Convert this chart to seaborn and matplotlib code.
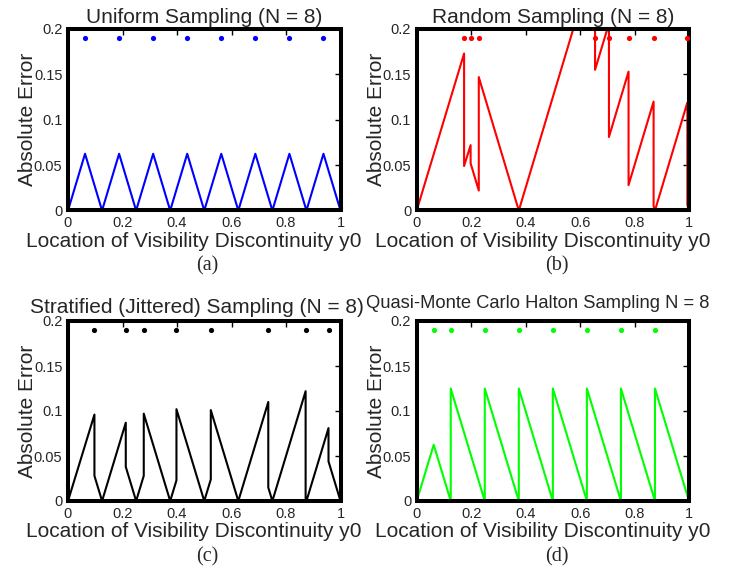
"""
Absolute error of a 1D visibility estimate against the location of the
discontinuity y0, for four ways of placing N = 8 samples.
"""

import matplotlib
matplotlib.use("Agg")
import matplotlib.pyplot as plt
import seaborn as sns

# height at which the sample positions are marked in every panel
DOT_LEVEL = 0.19

# (a) uniform sampling
UNIFORM_SAMPLES = [0.0625, 0.1875, 0.3125, 0.4375, 0.5625, 0.6875, 0.8125, 0.9375]
UNIFORM_X = [0, 0.0625, 0.125, 0.1875, 0.25, 0.3125, 0.375, 0.4375, 0.5,
             0.5625, 0.625, 0.6875, 0.75, 0.8125, 0.875, 0.9375, 1.0]
UNIFORM_ERR = [0, 0.0625, 0, 0.0625, 0, 0.0625, 0, 0.0625, 0,
               0.0625, 0, 0.0625, 0, 0.0625, 0, 0.0625, 0]

# (b) random sampling
RANDOM_SAMPLES = [0.174, 0.198, 0.228, 0.655, 0.706, 0.778, 0.870, 0.994]
RANDOM_X = [0, 0.174, 0.174, 0.198, 0.198, 0.228, 0.228, 0.375, 0.655, 0.655,
            0.706, 0.706, 0.778, 0.778, 0.870, 0.870, 0.875, 0.994, 0.994, 1.0]
RANDOM_ERR = [0, 0.173, 0.049, 0.072, 0.052, 0.022, 0.147, 0, 0.280, 0.155,
              0.206, 0.081, 0.153, 0.028, 0.120, 0.005, 0, 0.119, 0.006, 0]

# (c) stratified (jittered) sampling
STRAT_SAMPLES = [0.097, 0.212, 0.278, 0.398, 0.524, 0.735, 0.872, 0.956]
STRAT_X = [0, 0.097, 0.097, 0.125, 0.212, 0.212, 0.25, 0.278, 0.278, 0.375,
           0.398, 0.398, 0.5, 0.524, 0.524, 0.625, 0.735, 0.735, 0.75,
           0.872, 0.872, 0.875, 0.956, 0.956, 1.0]
STRAT_ERR = [0, 0.096, 0.028, 0, 0.087, 0.038, 0, 0.028, 0.097, 0,
             0.023, 0.102, 0, 0.024, 0.101, 0, 0.110, 0.015, 0,
             0.122, 0.003, 0, 0.081, 0.044, 0]

# (d) quasi-Monte Carlo (Halton) sampling
HALTON_SAMPLES = [0.0625, 0.125, 0.25, 0.375, 0.5, 0.625, 0.75, 0.875]
HALTON_X = [0, 0.0625, 0.125, 0.125, 0.25, 0.25, 0.375, 0.375, 0.5, 0.5,
            0.625, 0.625, 0.75, 0.75, 0.875, 0.875, 1.0]
HALTON_ERR = [0, 0.0625, 0, 0.125, 0, 0.125, 0, 0.125, 0, 0.125,
              0, 0.125, 0, 0.125, 0, 0.125, 0]

X_TICKS = [0, 0.2, 0.4, 0.6, 0.8, 1.0]
X_TICK_LABELS = ["0", "0.2", "0.4", "0.6", "0.8", "1"]
Y_TICKS = [0, 0.05, 0.1, 0.15, 0.2]
Y_TICK_LABELS = ["0", "0.05", "0.1", "0.15", "0.2"]

X_LABEL = "Location of Visibility Discontinuity y0"
Y_LABEL = "Absolute Error"

FIG_W, FIG_H = 738, 573


def px_box(left, right, top, bottom):
    """Turn a pixel box (from the top left corner) into figure fractions."""
    return [left / FIG_W, 1 - bottom / FIG_H,
            (right - left) / FIG_W, (bottom - top) / FIG_H]


def draw_panel(ax, x, err, samples, color, title, title_x, title_size, title_pad):
    """Draw one error curve with its sample positions on top."""
    sns.lineplot(x=x, y=err, ax=ax, color=color, linewidth=1.5,
                 estimator=None, sort=False, legend=False)
    sns.scatterplot(x=samples, y=[DOT_LEVEL] * len(samples), ax=ax,
                    color=color, s=14, linewidth=0, legend=False, zorder=3)

    ax.set_xlim(0, 1)
    ax.set_ylim(0, 0.2)
    ax.set_xticks(X_TICKS)
    ax.set_xticklabels(X_TICK_LABELS)
    ax.set_yticks(Y_TICKS)
    ax.set_yticklabels(Y_TICK_LABELS)
    ax.tick_params(direction="in", length=4, width=1, top=True, right=True,
                   labelsize=10.5, pad=4, color="black")

    for spine in ax.spines.values():
        spine.set_visible(True)
        spine.set_linewidth(2.9)
        spine.set_color("black")

    ax.set_xlabel(X_LABEL, fontsize=15)
    ax.set_ylabel(Y_LABEL, fontsize=15)
    ax.xaxis.set_label_coords(0.463, -0.118)
    ax.yaxis.set_label_coords(-0.114, 0.5)
    ax.set_title(title, fontsize=title_size, pad=title_pad, x=title_x)


def main():
    sns.set_style("white")
    plt.rcParams["font.family"] = ["Liberation Sans", "DejaVu Sans"]

    fig = plt.figure(figsize=(FIG_W / 100, FIG_H / 100), dpi=100)
    fig.patch.set_facecolor("white")

    ax_a = fig.add_axes(px_box(68, 340.5, 29, 210.5))
    ax_b = fig.add_axes(px_box(416.7, 689, 29, 210.5))
    ax_c = fig.add_axes(px_box(68, 340.5, 321, 501))
    ax_d = fig.add_axes(px_box(416.7, 689, 321, 501))

    draw_panel(ax_a, UNIFORM_X, UNIFORM_ERR, UNIFORM_SAMPLES, "#0000ff",
               "Uniform Sampling (N = 8)", 0.5, 15, 4.5)
    draw_panel(ax_b, RANDOM_X, RANDOM_ERR, RANDOM_SAMPLES, "#ff0000",
               "Random Sampling (N = 8)", 0.5, 15, 4.5)
    draw_panel(ax_c, STRAT_X, STRAT_ERR, STRAT_SAMPLES, "black",
               "Stratified (Jittered) Sampling (N = 8)", 0.473, 15, 5.5)
    draw_panel(ax_d, HALTON_X, HALTON_ERR, HALTON_SAMPLES, "#00ff00",
               "Quasi-Monte Carlo Halton Sampling N = 8", 0.445, 13.2, 9)

    # sub-figure captions in a serif face
    captions = [("(a)", 207.7, 265.5), ("(b)", 557, 265.5),
                ("(c)", 207.7, 557), ("(d)", 557, 557)]
    for text, cx, cy in captions:
        fig.text(cx / FIG_W, 1 - cy / FIG_H, text, ha="center", va="center",
                 fontsize=14.5, family=["Liberation Serif", "DejaVu Serif"])

    fig.savefig("out.png", dpi=100, facecolor="white")


if __name__ == "__main__":
    main()
